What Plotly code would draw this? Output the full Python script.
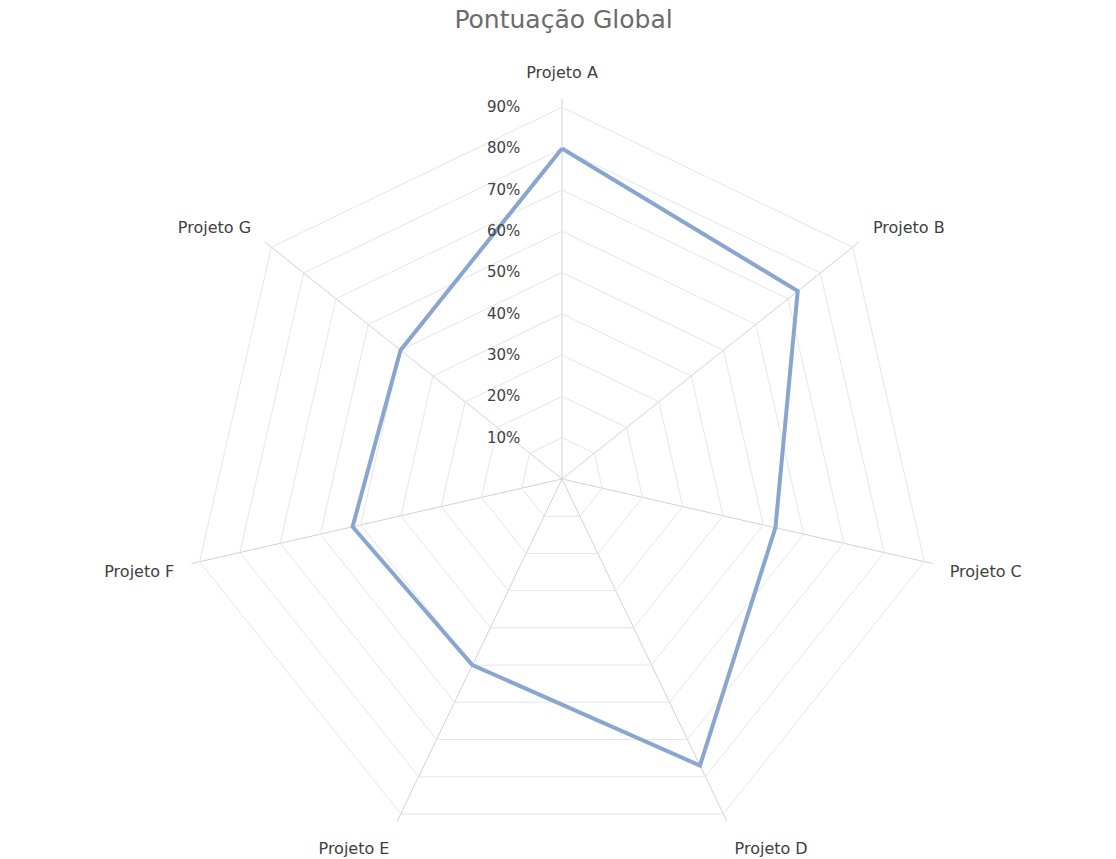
import plotly.graph_objects as go

# Overall score per project (fraction of 100%)
projetos = ["Projeto A", "Projeto B", "Projeto C", "Projeto D", "Projeto E", "Projeto F", "Projeto G"]
pontuacao = [0.80, 0.73, 0.53, 0.77, 0.50, 0.52, 0.50]
niveis = [0.1, 0.2, 0.3, 0.4, 0.5, 0.6, 0.7, 0.8, 0.9]

W, H = 1116, 859
cx, cy, R = 562, 479, 380  # centre and radius of the polar area in pixels

fig = go.Figure()
fig.add_trace(go.Scatterpolar(
    r=pontuacao + pontuacao[:1],
    theta=projetos + projetos[:1],
    mode="lines",
    line=dict(color="#88a6cf", width=4),
    hoverinfo="skip",
))

fig.update_layout(
    width=W, height=H,
    margin=dict(l=0, r=0, t=0, b=0),
    paper_bgcolor="white",
    showlegend=False,
    font=dict(family="DejaVu Sans, Verdana, sans-serif", color="#404040", size=14),
    title=dict(
        text="Pontuação Global",
        x=0.505, xanchor="center", y=0.978, yanchor="middle",
        font=dict(size=25, color="#6b6b6b"),
    ),
    polar=dict(
        domain=dict(x=[(cx - R) / W, (cx + R) / W], y=[(H - cy - R) / H, (H - cy + R) / H]),
        gridshape="linear",
        bgcolor="white",
        radialaxis=dict(
            range=[0, 0.92],
            tickvals=niveis,
            tickformat=".0%",
            angle=90,
            tickangle=90,
            side="counterclockwise",
            showline=False,
            ticks="outside",
            ticklen=36,
            tickcolor="rgba(0,0,0,0)",
            gridcolor="#e6e6e6",
            gridwidth=1,
            tickfont=dict(size=15, color="#404040"),
        ),
        angularaxis=dict(
            direction="clockwise",
            rotation=90,
            showline=False,
            ticks="outside",
            ticklen=14,
            tickcolor="rgba(0,0,0,0)",
            gridcolor="#d2d2d2",
            gridwidth=1.3,
            tickfont=dict(size=16, color="#404040"),
        ),
    ),
)

fig.write_html("out.html")
